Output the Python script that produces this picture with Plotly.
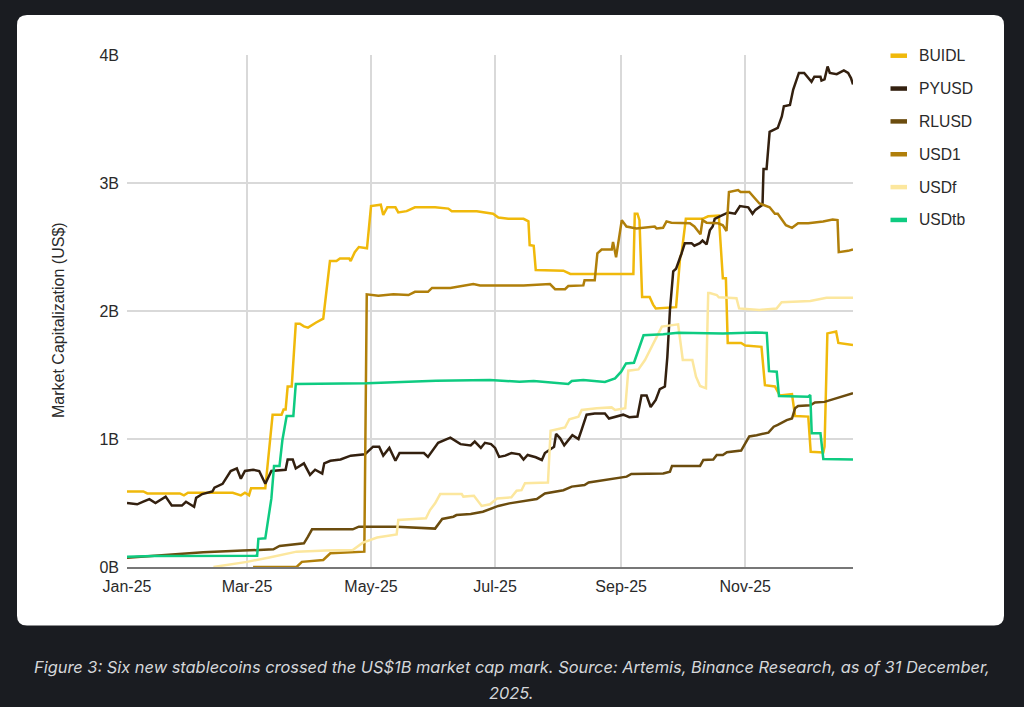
import pandas as pd
import plotly.graph_objects as go

START = pd.Timestamp("2025-01-01")

series_names = ["BUIDL", "PYUSD", "RLUSD", "USD1", "USDf", "USDtb"]
series_colors = ["#F0B90B", "#33200F", "#6B4C0E", "#B07F0A", "#FCE79E", "#0ECB81"]

# day offsets since 1 Jan 2025 / market cap in US$ billions
buidl_days = [0,8,10,26,28,30,52,56,58,60,61,68,71.6,76,77,78,79,81,83,85,87,89,93,96.5,99.8,103,104.7,109.3,110,112,114,118,120,124.8,126,128,132,133.4,137.5,141.6,151.5,158,159.7,166,172,180,182.6,187.5,195,197.4,198,200,201,214.6,218,229,236,249,249.7,251,252,253.3,257,258.7,260,270,272,272.7,274.8,283,285.8,291,293,294.5,295.4,302,304,312,313.7,318.6,321,327,328.5,335,336.2,342.4,343,344.4,348.7,349.8,357]
buidl_vals = [.59,.59,.575,.575,.56,.58,.58,.56,.58,.56,.615,.615,1.19,1.19,1.23,1.23,1.41,1.41,1.90,1.90,1.88,1.87,1.91,1.94,2.39,2.39,2.41,2.41,2.39,2.46,2.50,2.49,2.82,2.83,2.75,2.81,2.81,2.77,2.78,2.81,2.81,2.80,2.78,2.78,2.78,2.76,2.73,2.72,2.72,2.70,2.515,2.51,2.32,2.315,2.29,2.29,2.29,2.29,2.76,2.76,2.71,2.11,2.11,2.05,2.02,2.03,2.42,2.45,2.72,2.72,2.74,2.745,2.255,2.255,1.75,1.75,1.73,1.72,1.42,1.41,1.34,1.35,1.18,1.175,.90,.895,.94,1.825,1.84,1.75,1.735]

pyusd_days = [0,5,8,11,14,19,22,27,29,33,34,37,42,43,47,51,54,56,58,62,65,68,71,78,79,81.5,83,87,90,92.5,96,97,100,105,110,117,121,124,126,129,132,134,146,148,153,159,164,169,171,174,176,179,181,183,186,189,193,195,197,201,204,205.5,210,211,213,215,219,222,223.5,226,230,235,237,240,244,247,251,253,255.5,257.5,260,262,264.5,265.7,267,268.6,270,272.7,274.3,277.6,279,281.7,283,285,286.6,288,289,291.5,295.6,299,301.4,305.5,307.6,309,312.5,313,314.5,316,320,322,323,326,327.6,330.4,333,336.6,338,341,341.5,343,344.5,345.6,349,352.5,354.6,356,357]
pyusd_vals = [.50,.49,.51,.53,.50,.55,.48,.48,.51,.47,.54,.57,.59,.62,.65,.75,.77,.69,.75,.76,.75,.65,.75,.76,.84,.84,.77,.81,.72,.76,.73,.81,.83,.84,.87,.88,.94,.94,.87,.93,.83,.89,.89,.86,.97,1.01,.96,.95,.98,.93,.97,.96,.93,.86,.87,.89,.88,.84,.875,.857,.836,.89,.94,1.04,1.005,.95,1.03,1.0,1.07,1.19,1.20,1.20,1.16,1.175,1.19,1.17,1.175,1.34,1.34,1.25,1.305,1.39,1.41,1.64,2.01,2.31,2.33,2.45,2.53,2.53,2.51,2.53,2.55,2.52,2.63,2.66,2.72,2.74,2.77,2.76,2.82,2.81,2.76,2.79,2.83,3.11,3.11,3.40,3.43,3.52,3.60,3.61,3.73,3.86,3.86,3.79,3.83,3.83,3.80,3.81,3.91,3.86,3.85,3.88,3.86,3.82,3.77]

rlusd_days = [0,13,37.5,57,72,75,87,89,91,111,114,132.6,151.5,155,160.5,162,169,175,178.5,182.6,188,196.5,201.5,205.5,210.5,214.6,218.7,225,227,232.6,239,245.7,248,263.7,267,268,281.8,283.4,288.3,290,293,295,302,304,306,309.6,315.4,318,320,324.4,327,328.5,330,336,338.3,343,349,352,357]
rlusd_vals = [.073,.086,.115,.128,.138,.164,.185,.237,.294,.294,.315,.315,.30,.375,.393,.406,.414,.432,.45,.477,.497,.516,.531,.575,.589,.60,.628,.64,.66,.675,.693,.706,.727,.73,.745,.79,.79,.836,.84,.875,.875,.896,.91,.966,1.02,1.03,1.05,1.096,1.11,1.148,1.16,1.24,1.258,1.263,1.286,1.29,1.318,1.33,1.357]

usd1_days = [62,83.4,86,96.5,100,114.6,116.7,117.9,123.6,131,138.4,141.6,148,150,159,170.3,173.6,180,195,208,210.5,215.4,217,224.4,225,230,231.3,233.4,238.4,239,240.5,243.3,245.6,250.5,259.5,260.4,263.6,265.3,267.7,276.8,279,282,283,285,290.7,293,294.8,296,300.5,301.7,306,311,316,318.6,320,324,327,330,335,342.3,347,349.4,350,354.6,357]
usd1_vals = [0,0,.04,.055,.107,.12,.12,2.13,2.12,2.13,2.125,2.15,2.15,2.18,2.18,2.21,2.20,2.20,2.20,2.21,2.17,2.17,2.195,2.20,2.24,2.24,2.45,2.48,2.48,2.54,2.42,2.71,2.66,2.645,2.66,2.645,2.65,2.70,2.69,2.685,2.66,2.60,2.71,2.69,2.685,2.67,2.625,2.93,2.945,2.93,2.93,2.84,2.81,2.76,2.76,2.67,2.65,2.685,2.685,2.70,2.715,2.71,2.46,2.47,2.48]

usdf_days = [42.5,49,59,70,83.4,98,111,116,123,132.6,133.4,147,149,151.5,154,164.6,165.4,170.6,174.4,178.5,182,189,191.6,194,195.7,207,208.3,215.4,217.5,222,223.6,231,238.3,240,245,246.5,251.5,254.7,258.8,263,271,273.3,278,279.8,281.8,284.7,285.8,286.6,290,291,299.7,301,304.6,311,319.4,321.9,336,344,357]
usdf_vals = [0,.016,.04,.075,.12,.128,.133,.19,.23,.255,.367,.38,.445,.497,.57,.57,.55,.557,.477,.49,.536,.544,.596,.60,.654,.66,1.065,1.09,1.154,1.174,1.227,1.24,1.247,1.227,1.24,1.534,1.544,1.617,1.747,1.878,1.896,1.617,1.617,1.487,1.414,1.396,2.14,2.14,2.125,2.107,2.10,2.02,2.016,2.008,2.02,2.068,2.078,2.104,2.104]

usdtb_days = [0,13,64,64.6,68,69.5,71,72.3,75,76.4,78.5,81.8,83,118,147,152,178.5,193,200,212,217,218.7,224.4,235,240,243,245.4,249.3,254,263.7,271,293,309,314.6,315.7,319.5,320.6,335,336,336.7,341,342.4,357]
usdtb_vals = [.08,.086,.088,.22,.224,.393,.536,.79,.79,.99,1.18,1.18,1.43,1.435,1.448,1.456,1.46,1.448,1.453,1.435,1.43,1.453,1.46,1.445,1.474,1.526,1.59,1.596,1.81,1.818,1.83,1.825,1.833,1.828,1.53,1.526,1.336,1.33,1.344,1.044,1.044,.844,.84]

all_days = [buidl_days, pyusd_days, rlusd_days, usd1_days, usdf_days, usdtb_days]
all_vals = [buidl_vals, pyusd_vals, rlusd_vals, usd1_vals, usdf_vals, usdtb_vals]

y_ticks = [0, 1, 2, 3, 4]
y_labels = ["0B", "1B", "2B", "3B", "4B"]
y_title = "Market Capitalization (US$)"
caption_lines = ["Figure 3: Six new stablecoins crossed the US$1B market cap mark. Source: Artemis, "
                 "Binance Research, as of 31 December,", "2025."]

W, H = 1024, 707
L, R, T, B = 127, 853, 55, 567
px = lambda x: (x - L) / (R - L)
py = lambda y: (B - y) / (B - T)
TXT = "#2A2A2A"
FS = 16


def to_dates(days):
    return [(START + pd.Timedelta(hours=float(d) * 24)).isoformat() for d in days]


fig = go.Figure()
for name, color, days, vals in zip(series_names, series_colors, all_days, all_vals):
    fig.add_trace(go.Scatter(x=to_dates(days), y=vals, name=name, mode="lines",
                             line=dict(color=color, width=2.5), showlegend=False))

# white rounded card behind the chart
c_l, c_t, c_r, c_b, r = 17, 15, 1004, 625.5, 10
card = (f"M {px(c_l + r)} {py(c_t)} L {px(c_r - r)} {py(c_t)} "
        f"Q {px(c_r)} {py(c_t)} {px(c_r)} {py(c_t + r)} L {px(c_r)} {py(c_b - r)} "
        f"Q {px(c_r)} {py(c_b)} {px(c_r - r)} {py(c_b)} L {px(c_l + r)} {py(c_b)} "
        f"Q {px(c_l)} {py(c_b)} {px(c_l)} {py(c_b - r)} L {px(c_l)} {py(c_t + r)} "
        f"Q {px(c_l)} {py(c_t)} {px(c_l + r)} {py(c_t)} Z")
shapes = [dict(type="path", xref="paper", yref="paper", path=card,
               fillcolor="white", line_width=0, layer="below")]
annotations = []

# hand-placed legend with short swatches
for i, (name, color) in enumerate(zip(series_names, series_colors)):
    yy = 55.7 + i * 32.85
    shapes.append(dict(type="line", xref="paper", yref="paper", x0=px(890.5), x1=px(907),
                       y0=py(yy), y1=py(yy), line=dict(color=color, width=4.5)))
    annotations.append(dict(xref="paper", yref="paper", x=px(917), y=py(yy), text=name,
                            showarrow=False, xanchor="left", yanchor="middle",
                            font=dict(size=15.7, color=TXT)))

for text, yy in zip(caption_lines, [667, 693]):
    annotations.append(dict(xref="paper", yref="paper", x=px(511.5), y=py(yy), text=text,
                            showarrow=False, xanchor="center", yanchor="middle", align="center",
                            font=dict(family="Inter, sans-serif", size=16.4, color="#D5D7DA",
                                      style="italic")))
annotations.append(dict(xref="paper", yref="paper", x=px(58), y=py(320), text=y_title,
                        showarrow=False, textangle=-90, xanchor="center", yanchor="middle",
                        font=dict(size=FS, color=TXT)))

fig.update_layout(
    width=W, height=H,
    margin=dict(l=L, r=W - R, t=T, b=H - B, pad=0),
    paper_bgcolor="#1A1C21", plot_bgcolor="white",
    font=dict(family="Liberation Sans, Arial, sans-serif", size=FS, color=TXT),
    shapes=shapes, annotations=annotations, showlegend=False,
    xaxis=dict(type="date", range=[START.isoformat(), (START + pd.Timedelta(days=357)).isoformat()],
               dtick="M2", tick0="2025-01-01", tickformat="%b-%y", showgrid=True,
               gridcolor="#D9D9D9", gridwidth=1.5, ticks="", showline=True, ticklabelstandoff=4,
               linecolor="#777777", linewidth=1.5, tickfont=dict(size=FS, color=TXT)),
    yaxis=dict(range=[0, 4], tickvals=y_ticks, ticktext=y_labels, showgrid=True,
               gridcolor="#D9D9D9", gridwidth=1.5, ticks="", zeroline=False, showline=False,
               ticklabelstandoff=7, tickfont=dict(size=FS, color=TXT)),
)

fig.write_html("out.html", config={"displayModeBar": False}, post_script=(
    "document.body.style.margin='0';document.body.style.background='#1A1C21';"
    "document.documentElement.style.overflow='hidden';"))
